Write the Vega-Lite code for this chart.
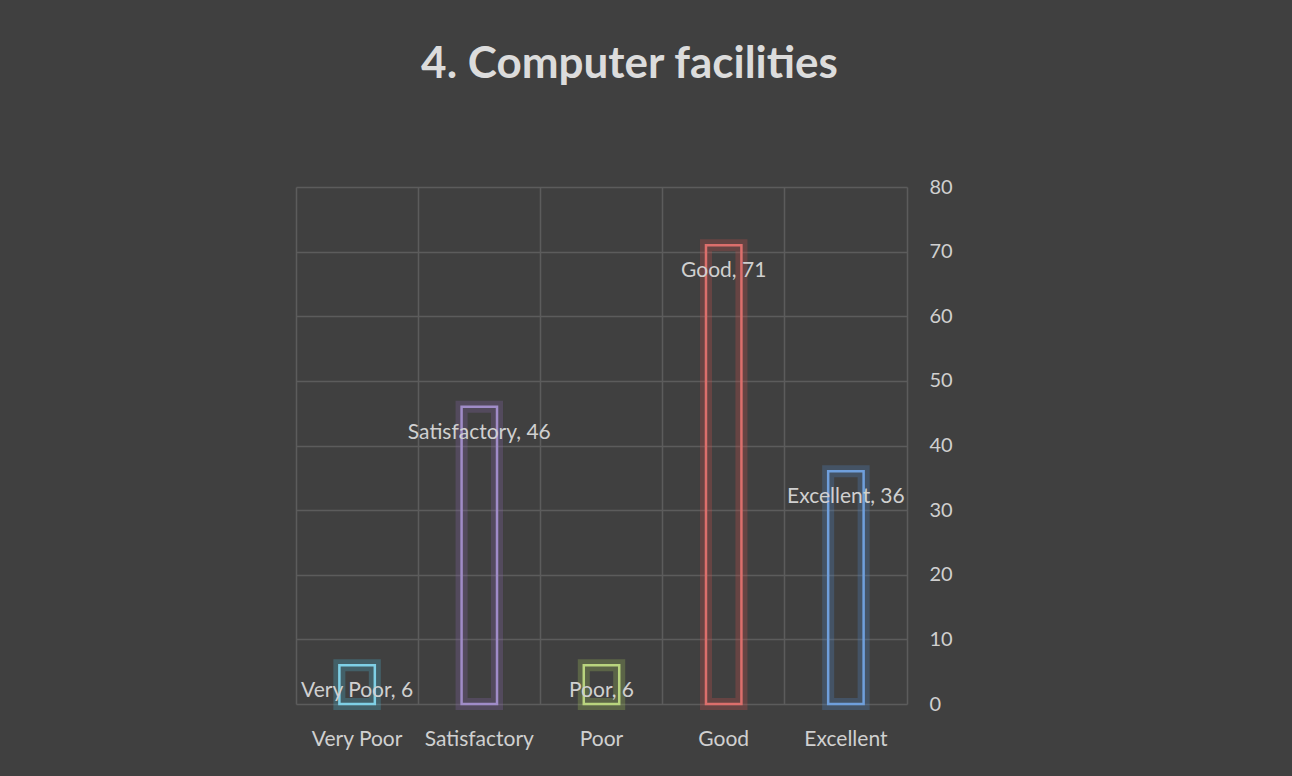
{
  "$schema": "https://vega.github.io/schema/vega-lite/v6.json",
  "width": 611,
  "height": 517,
  "autosize": {"type": "none"},
  "padding": {"left": 296, "top": 187, "right": 385, "bottom": 72},
  "background": "#404040",
  "title": {
    "text": "4. Computer facilities",
    "font": "Lato",
    "fontSize": 44,
    "fontWeight": "bold",
    "color": "#dcdcdc",
    "anchor": "middle",
    "frame": "group",
    "dx": 28,
    "offset": 55,
    "baseline": "alphabetic"
  },
  "config": {
    "view": {"stroke": null},
    "font": "Lato"
  },
  "data": {
    "values": [
      {"category": "Very Poor", "value": 6},
      {"category": "Satisfactory", "value": 46},
      {"category": "Poor", "value": 6},
      {"category": "Good", "value": 71},
      {"category": "Excellent", "value": 36}
    ]
  },
  "transform": [
    {"calculate": "datum.category + ', ' + datum.value", "as": "label"}
  ],
  "encoding": {
    "x": {
      "field": "category",
      "type": "nominal",
      "sort": null,
      "scale": {"paddingInner": 0, "paddingOuter": 0},
      "axis": {
        "title": null,
        "labelAngle": 0,
        "labelFont": "Lato",
        "labelFontSize": 21,
        "labelColor": "#d0d0d0",
        "labelPadding": 24,
        "ticks": false,
        "domain": false,
        "grid": true,
        "bandPosition": 0,
        "gridColor": "#5c5c5c",
        "gridWidth": 1.5
      }
    },
    "y": {
      "field": "value",
      "type": "quantitative",
      "scale": {"domain": [0, 80], "nice": false},
      "axis": {
        "orient": "right",
        "title": null,
        "values": [0, 10, 20, 30, 40, 50, 60, 70, 80],
        "labelFont": "Lato",
        "labelFontSize": 20,
        "labelColor": "#d0d0d0",
        "labelPadding": 22,
        "labelAlign": "left",
        "ticks": false,
        "domain": true,
        "domainColor": "#5c5c5c",
        "domainWidth": 1.5,
        "grid": true,
        "gridColor": "#5c5c5c",
        "gridWidth": 1.5
      }
    }
  },
  "layer": [
    {
      "mark": {"type": "bar", "fill": null, "filled": false, "strokeWidth": 12, "strokeOpacity": 0.3, "width": {"band": 0.29}},
      "encoding": {
        "stroke": {
          "field": "category",
          "type": "nominal",
          "sort": null,
          "scale": {"domain": ["Very Poor", "Satisfactory", "Poor", "Good", "Excellent"], "range": ["#4bacc6", "#8064a2", "#9bbb59", "#c0504d", "#4f81bd"]},
          "legend": null
        }
      }
    },
    {
      "mark": {"type": "bar", "fill": null, "filled": false, "strokeWidth": 2.5, "width": {"band": 0.29}},
      "encoding": {
        "stroke": {
          "field": "category",
          "type": "nominal",
          "sort": null,
          "scale": {"domain": ["Very Poor", "Satisfactory", "Poor", "Good", "Excellent"], "range": ["#7fd0e6", "#a08cc8", "#b9d47e", "#dc6f6c", "#6f9fdc"]},
          "legend": null
        }
      }
    },
    {
      "mark": {"type": "text", "font": "Lato", "fontSize": 21, "color": "#d0d0d0", "dy": 26, "baseline": "middle"},
      "encoding": {
        "text": {"field": "label"}
      }
    }
  ],
  "resolve": {"scale": {"stroke": "independent"}}
}
